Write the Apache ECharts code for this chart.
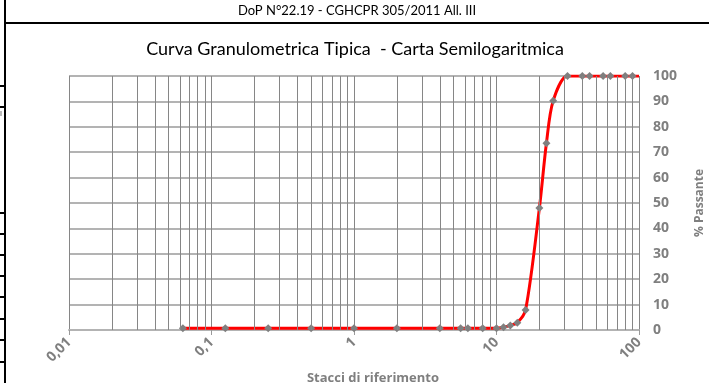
<!DOCTYPE html>
<html>
<head>
<meta charset="utf-8">
<script src="https://cdn.jsdelivr.net/npm/echarts@6/dist/echarts.min.js"></script>
<style>
  html, body { margin: 0; padding: 0; background: #fff; }
  #chart { width: 709px; height: 383px; }
</style>
</head>
<body>
<div id="chart"></div>
<script>
// Sieve sizes (mm) and cumulative passing (%)
const sieveSizes = [0.063, 0.125, 0.25, 0.5, 1, 2, 4, 5.6, 6.3, 8, 10, 11.2, 12.5, 14, 16, 20, 22.4, 25, 31.5, 40, 45, 56, 63, 80, 90, 100];
const passing    = [0.7, 0.7, 0.7, 0.7, 0.7, 0.7, 0.7, 0.7, 0.7, 0.7, 0.7, 1.1, 1.8, 2.9, 7.9, 48, 73.5, 90.3, 100, 100, 100, 100, 100, 100, 100, 100];

// Decade ticks of the log axis and their labels (Italian decimal comma)
const xTickValues = [0.01, 0.1, 1, 10, 100];
const xTickLabels = ['0,01', '0,1', '1', '10', '100'];

const headerText = 'DoP N°22.19 - CGHCPR 305/2011 All. III';
const titleText = 'Curva Granulometrica Tipica  - Carta Semilogaritmica';

const GRAY = '#7f7f7f';
const TEXT_FONT = 'Lato, "Open Sans", sans-serif';
const AXIS_FONT = '"Open Sans", "Noto Sans", sans-serif';

// Minor vertical grid lines at 2..9 inside every decade
const minorLines = [];
[0.01, 0.1, 1, 10].forEach(function (d) {
  for (let m = 2; m <= 9; m++) minorLines.push({ xAxis: +(m * d).toPrecision(6) });
});

const seriesData = sieveSizes.map(function (s, i) {
  const item = { value: [s, passing[i]] };
  if (s === 100) item.symbol = 'none';
  return item;
});

function tickLabel(v) {
  for (let i = 0; i < xTickValues.length; i++) {
    if (Math.abs(Math.log10(v) - Math.log10(xTickValues[i])) < 1e-6) return xTickLabels[i];
  }
  return '';
}

// Page frame, header and left-hand table row stubs
const stubYs = [86, 107, 213, 234, 255, 276, 297, 319, 340, 362];
const frame = [
  { type: 'line', shape: { x1: 5, y1: 0, x2: 5, y2: 383 }, style: { stroke: '#000', lineWidth: 2 } },
  { type: 'line', shape: { x1: 5, y1: 23, x2: 709, y2: 23 }, style: { stroke: '#000', lineWidth: 2 } },
  { type: 'rect', shape: { x: 0, y: 111, width: 2, height: 5 }, style: { fill: '#bbbbbb' } },
  { type: 'text', style: { x: 357, y: 11, text: headerText, textAlign: 'center', textVerticalAlign: 'middle', font: '13px ' + TEXT_FONT, fill: '#000' } },
  { type: 'text', style: { x: 355, y: 49, text: titleText, textAlign: 'center', textVerticalAlign: 'middle', font: '18px ' + TEXT_FONT, fill: '#000' } }
];
stubYs.forEach(function (y) {
  frame.push({ type: 'line', shape: { x1: 0, y1: y, x2: 5, y2: y }, style: { stroke: '#000', lineWidth: 2 } });
});

const chart = echarts.init(document.getElementById('chart'), null, { renderer: 'canvas' });
chart.setOption({
  animation: false,
  backgroundColor: '#fff',
  graphic: frame,
  grid: { left: 69, right: 70, top: 76, bottom: 53, containLabel: false, outerBoundsMode: 'none' },
  xAxis: {
    type: 'log',
    logBase: 10,
    min: 0.01,
    max: 100,
    name: 'Stacci di riferimento',
    nameLocation: 'middle',
    nameGap: 41,
    nameTextStyle: { color: GRAY, fontWeight: 'bold', fontSize: 13, fontFamily: AXIS_FONT, padding: [0, 0, 0, 38] },
    axisLine: { show: true, lineStyle: { color: '#b3b3b3', width: 2 } },
    axisTick: { show: true, length: 5, lineStyle: { color: '#9a9a9a', width: 1 } },
    axisLabel: {
      rotate: 45,
      margin: 10,
      color: GRAY,
      fontWeight: 'bold',
      fontSize: 14,
      fontFamily: AXIS_FONT,
      formatter: tickLabel
    },
    splitLine: { show: true, lineStyle: { color: '#868686', width: 1 } },
    minorTick: { show: false },
    minorSplitLine: { show: false }
  },
  yAxis: {
    type: 'value',
    position: 'right',
    min: 0,
    max: 100,
    interval: 10,
    name: '% Passante',
    nameLocation: 'middle',
    nameGap: 55,
    nameRotate: 90,
    nameTextStyle: { color: GRAY, fontWeight: 'bold', fontSize: 12, fontFamily: AXIS_FONT },
    axisLine: { show: false },
    axisTick: { show: false },
    axisLabel: { color: GRAY, fontWeight: 'bold', fontSize: 14, fontFamily: AXIS_FONT, margin: 14 },
    splitLine: { show: true, lineStyle: { color: '#b3b3b3', width: 2 } }
  },
  series: [
    {
      name: 'grid-minor',
      type: 'line',
      data: [],
      z: 1,
      silent: true,
      markLine: {
        silent: true,
        symbol: 'none',
        label: { show: false },
        lineStyle: { color: '#868686', width: 1, type: 'solid' },
        data: minorLines
      }
    },
    {
      name: 'Passante',
      type: 'line',
      z: 3,
      data: seriesData,
      smooth: 0.3,
      symbol: 'diamond',
      symbolSize: 8,
      showAllSymbol: true,
      itemStyle: { color: GRAY },
      lineStyle: { color: '#ff0000', width: 3 }
    }
  ]
});
</script>
</body>
</html>
